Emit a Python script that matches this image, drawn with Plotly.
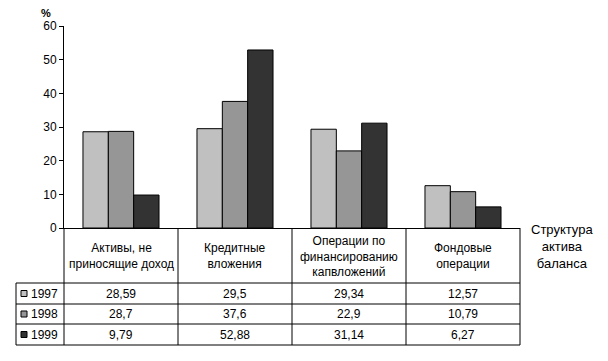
import plotly.graph_objects as go

categories = ["Активы, не<br>приносящие доход", "Кредитные<br>вложения",
              "Операции по<br>финансированию<br>капвложений", "Фондовые<br>операции"]
years = ["1997", "1998", "1999"]
v1997 = [28.59, 29.5, 29.34, 12.57]
v1998 = [28.7, 37.6, 22.9, 10.79]
v1999 = [9.79, 52.88, 31.14, 6.27]
series = [v1997, v1998, v1999]
colors = ["#C0C0C0", "#969696", "#333333"]
y_ticks = [0, 10, 20, 30, 40, 50, 60]
axis_title = "Структура<br>актива<br>баланса"

OFF = 8  # page body margin
W, H = 608 - OFF, 361 - OFF
# plot area in reference pixels: x 64..520, y 26..228
L, R, T, B = 64 - OFF, 608 - 520, 26 - OFF, 361 - 228
PW, PH = W - L - R, H - T - B
FONT = "Liberation Sans, Arial, sans-serif"


def px(X):
    return (X - OFF - L) / PW


def py(Y):
    return (H - B - (Y - OFF)) / PH


x_idx = list(range(len(categories)))
fig = go.Figure()
for name, vals, c in zip(years, series, colors):
    fig.add_trace(go.Bar(x=x_idx, y=vals, name=name,
                         marker=dict(color=c, line=dict(color="black", width=1)),
                         showlegend=False))

shapes = []
ann = []
line = dict(color="black", width=1)
n = len(categories)
row_edges = [283, 304, 324, 345]
left_edge = 16
for k in range(n + 1):
    xk = k / n
    shapes.append(dict(type="line", xref="paper", yref="paper", x0=xk, x1=xk,
                       y0=py(228), y1=py(row_edges[-1]), line=line))
shapes.append(dict(type="line", xref="paper", yref="paper", x0=px(left_edge), x1=px(left_edge),
                   y0=py(row_edges[0]), y1=py(row_edges[-1]), line=line))
for Y in row_edges:
    shapes.append(dict(type="line", xref="paper", yref="paper", x0=px(left_edge), x1=1,
                       y0=py(Y), y1=py(Y), line=line))

for i, cat in enumerate(categories):
    ann.append(dict(x=(i + 0.5) / n, y=py(256), xref="paper", yref="paper", text=cat, showarrow=False,
                    xanchor="center", yanchor="middle", font=dict(size=12, color="black", family=FONT)))

for r, (name, vals, c) in enumerate(zip(years, series, colors)):
    top, bot = row_edges[r], row_edges[r + 1]
    ymid = (top + bot) / 2
    shapes.append(dict(type="rect", xref="paper", yref="paper", x0=px(21), x1=px(27),
                       y0=py(ymid - 3), y1=py(ymid + 3), fillcolor=c,
                       line=dict(color="black", width=1)))
    ann.append(dict(x=px(29), y=py(ymid), xref="paper", yref="paper", text=name, showarrow=False,
                    xanchor="left", yanchor="middle", font=dict(size=12, color="black", family=FONT)))
    for i, v in enumerate(vals):
        ann.append(dict(x=(i + 0.5) / n, y=py(ymid), xref="paper", yref="paper",
                        text=str(v).replace(".", ","), showarrow=False,
                        xanchor="center", yanchor="middle",
                        font=dict(size=12, color="black", family=FONT)))

ann.append(dict(x=px(562), y=py(246), xref="paper", yref="paper", text=axis_title, showarrow=False,
                xanchor="center", yanchor="middle", font=dict(size=13, color="black", family=FONT)))
ann.append(dict(x=px(46), y=py(13), xref="paper", yref="paper", text="<b>%</b>", showarrow=False,
                xanchor="center", yanchor="middle", font=dict(size=11, color="black", family=FONT)))

fig.update_layout(
    width=W, height=H, margin=dict(l=L, r=R, t=T, b=B, pad=0),
    paper_bgcolor="white", plot_bgcolor="white",
    barmode="group", bargap=0.333, bargroupgap=0,
    font=dict(family=FONT, size=12, color="black"),
    shapes=shapes, annotations=ann,
    xaxis=dict(range=[-0.5, n - 0.5], showticklabels=False, ticks="", showline=True,
               linecolor="black", linewidth=1, showgrid=False, zeroline=False, fixedrange=True),
    yaxis=dict(range=[0, 60], tickvals=y_ticks, ticks="outside", ticklen=4, tickcolor="black",
               showline=True, linecolor="black", linewidth=1, showgrid=False, zeroline=False,
               tickfont=dict(size=12, color="black", family=FONT)),
)

fig.write_html("out.html")
